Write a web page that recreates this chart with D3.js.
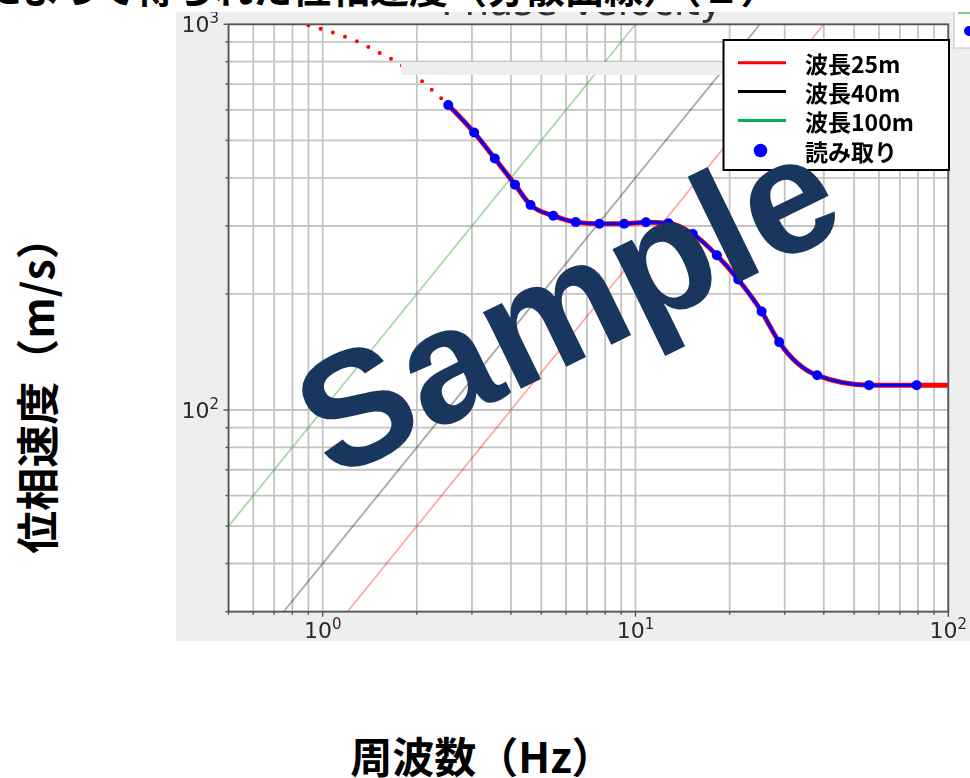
<!DOCTYPE html>
<html>
<head>
<meta charset="utf-8">
<script src="https://cdn.jsdelivr.net/npm/d3@7/dist/d3.min.js"></script>
<style>
  html, body { margin: 0; padding: 0; background: #ffffff; }
  svg { display: block; }
</style>
</head>
<body>
<svg id="chart" width="970" height="778"></svg>
<script>
// Picked phase-velocity points (読み取り)
const readFreq = [2.52, 3.05, 3.55, 4.12, 4.62, 5.46, 6.44, 7.67, 9.2, 10.8, 12.75, 15.25, 18.2, 21.3, 25.3, 28.8, 38.1, 55.8, 79.2];
const readVel  = [618, 524, 449, 384, 340, 319, 307, 304, 304, 306.6, 305, 286, 252, 218, 180, 150, 123, 116, 116];

// Dispersion curve: low-frequency extrapolated part (dotted) and fitted part (solid)
const curveUpperFreq = [0.9, 1.09, 1.30, 1.50, 1.70, 2.0, 2.29, 2.52];
const curveUpperVel  = [995, 949, 900, 848, 804, 731, 664, 618];
const curveLowerFreq = [2.52, 3.05, 3.55, 4.12, 4.62, 5.46, 6.44, 7.67, 9.2, 10.8, 12.75, 15.25, 18.2, 21.3, 25.3, 28.8, 38.1, 55.8, 79.2, 100];
const curveLowerVel  = [618, 524, 449, 384, 340, 319, 307, 304, 304, 306.6, 305, 286, 252, 218, 180, 150, 123, 116, 116, 116];

// Constant-wavelength reference lines (v = λ f), end points
const wl25Freq  = [1.2, 40];   const wl25Vel  = [30, 1000];
const wl40Freq  = [0.75, 25];  const wl40Vel  = [30, 1000];
const wl100Freq = [0.5, 10];   const wl100Vel = [50, 1000];

const legendLabels = ["波長25m", "波長40m", "波長100m", "読み取り"];
const xTickExponents = ["0", "1", "2"];
const yTickExponents = ["2", "3"];
const xMajor = [1, 10, 100];
const yMajor = [100, 1000];

const svg = d3.select("#chart");

// soft blur for the embedded figure
const defs = svg.append("defs");
defs.append("filter").attr("id", "soft").attr("x", "-5%").attr("y", "-5%").attr("width", "110%").attr("height", "110%")
  .append("feGaussianBlur").attr("stdDeviation", 0.6);
defs.append("clipPath").attr("id", "figClip")
  .append("rect").attr("x", 176).attr("y", 12).attr("width", 794).attr("height", 629);
defs.append("clipPath").attr("id", "plotClip")
  .append("rect").attr("x", 228.5).attr("y", 24.3).attr("width", 948.3 - 228.5).attr("height", 611.7 - 24.3);

const x = d3.scaleLog().domain([0.5, 100]).range([228.5, 948.3]);
const y = d3.scaleLog().domain([30, 1000]).range([611.7, 24.3]);

const fig = svg.append("g").attr("clip-path", "url(#figClip)");
const figInner = fig.append("g").attr("filter", "url(#soft)");

// figure background
figInner.append("rect").attr("x", 176).attr("y", 12).attr("width", 794).attr("height", 629).attr("fill", "#eeeeee");

// matplotlib title, mostly cut off by the figure edge
figInner.append("text")
  .attr("x", 582).attr("y", 15)
  .attr("text-anchor", "middle")
  .attr("font-family", "DejaVu Sans")
  .attr("font-size", 39)
  .attr("fill", "#333")
  .text("Phase Velocity");

// plot area
figInner.append("rect").attr("x", 228.5).attr("y", 24.3).attr("width", 948.3 - 228.5).attr("height", 611.7 - 24.3).attr("fill", "#ffffff");

const plot = figInner.append("g").attr("clip-path", "url(#plotClip)");

// grid (major + minor)
plot.append("g").selectAll("line").data(x.ticks()).join("line")
  .attr("x1", d => x(d)).attr("x2", d => x(d))
  .attr("y1", 24.3).attr("y2", 611.7)
  .attr("stroke", "#c4c4c4").attr("stroke-width", 1.8);
plot.append("g").selectAll("line").data(y.ticks()).join("line")
  .attr("y1", d => y(d)).attr("y2", d => y(d))
  .attr("x1", 228.5).attr("x2", 948.3)
  .attr("stroke", "#c4c4c4").attr("stroke-width", 1.8);

// wavelength lines
const straight = d3.line().x(d => x(d[0])).y(d => y(d[1]));
const wlSets = [
  { f: wl25Freq, v: wl25Vel, color: "#ff0000" },
  { f: wl40Freq, v: wl40Vel, color: "#000000" },
  { f: wl100Freq, v: wl100Vel, color: "#009000" }
];
wlSets.forEach(s => {
  plot.append("path")
    .attr("d", straight(d3.zip(s.f, s.v)))
    .attr("fill", "none").attr("stroke", s.color)
    .attr("stroke-opacity", 0.34).attr("stroke-width", 1.8);
});

// dispersion curve
const smooth = d3.line().x(d => x(d[0])).y(d => y(d[1])).curve(d3.curveMonotoneX);
plot.append("path")
  .attr("d", smooth(d3.zip(curveUpperFreq, curveUpperVel)))
  .attr("fill", "none").attr("stroke", "#ff0000")
  .attr("stroke-width", 4).attr("stroke-linecap", "round")
  .attr("stroke-dasharray", "0 12.8");
plot.append("path")
  .attr("d", smooth(d3.zip(curveLowerFreq, curveLowerVel)))
  .attr("fill", "none").attr("stroke", "#ff0000").attr("stroke-width", 5);

// picked points
plot.append("path")
  .attr("d", smooth(d3.zip(readFreq, readVel)))
  .attr("fill", "none").attr("stroke", "#0000ff").attr("stroke-width", 3);
plot.append("g").selectAll("circle").data(d3.zip(readFreq, readVel)).join("circle")
  .attr("cx", d => x(d[0])).attr("cy", d => y(d[1])).attr("r", 5)
  .attr("fill", "#0000ff");

// band across the upper plot
figInner.append("rect").attr("x", 401).attr("y", 62).attr("width", 322).attr("height", 13).attr("fill", "#eeeeee");

// spines
figInner.append("rect").attr("x", 228.5).attr("y", 24.3).attr("width", 948.3 - 228.5).attr("height", 611.7 - 24.3)
  .attr("fill", "none").attr("stroke", "#555").attr("stroke-width", 1.8);

// ticks
const tickG = figInner.append("g").attr("stroke", "#555").attr("stroke-width", 1.4);
x.ticks().forEach(d => {
  const len = xMajor.includes(d) ? 5 : 3;
  tickG.append("line").attr("x1", x(d)).attr("x2", x(d)).attr("y1", 611.7).attr("y2", 611.7 + len);
});
y.ticks().forEach(d => {
  const len = yMajor.includes(d) ? 5 : 3;
  tickG.append("line").attr("y1", y(d)).attr("y2", y(d)).attr("x1", 228.5).attr("x2", 228.5 - len);
});

// tick labels 10^n
xMajor.forEach((d, i) => {
  const t = figInner.append("text")
    .attr("x", x(d)).attr("y", 638)
    .attr("text-anchor", "middle")
    .attr("font-family", "DejaVu Sans").attr("font-size", 22).attr("fill", "#2a2a2a");
  t.append("tspan").text("10");
  t.append("tspan").attr("dy", -9).attr("font-size", 15).text(xTickExponents[i]);
});
yMajor.forEach((d, i) => {
  const t = figInner.append("text")
    .attr("x", 219).attr("y", y(d) + 8)
    .attr("text-anchor", "end")
    .attr("font-family", "DejaVu Sans").attr("font-size", 22).attr("fill", "#2a2a2a");
  t.append("tspan").text("10");
  t.append("tspan").attr("dy", -9).attr("font-size", 15).text(yTickExponents[i]);
});

// legend
const lg = figInner.append("g");
lg.append("rect").attr("x", 723.5).attr("y", 40).attr("width", 225.5).attr("height", 130)
  .attr("fill", "#ffffff").attr("stroke", "#000").attr("stroke-width", 2);
const legendColors = ["#ff0000", "#000000", "#00b050", "#0000ff"];
const rowY = [62.7, 91.5, 120.5, 150.5];
legendLabels.forEach((lab, i) => {
  if (i < 3) {
    lg.append("line").attr("x1", 738).attr("x2", 786).attr("y1", rowY[i]).attr("y2", rowY[i])
      .attr("stroke", legendColors[i]).attr("stroke-width", 3);
  } else {
    lg.append("circle").attr("cx", 760.5).attr("cy", rowY[i]).attr("r", 6.8).attr("fill", legendColors[i]);
  }
  lg.append("text").attr("x", 805).attr("y", rowY[i])
    .attr("dominant-baseline", "central")
    .attr("font-family", "Noto Sans CJK JP").attr("font-weight", 700).attr("font-size", 23)
    .attr("fill", "#000").text(lab);
});

// second legend peeking in at the right edge
const lg2 = figInner.append("g");
lg2.append("rect").attr("x", 954).attr("y", 8).attr("width", 40).attr("height", 40)
  .attr("fill", "#ffffff").attr("stroke", "#cccccc").attr("stroke-width", 1.2);
lg2.append("line").attr("x1", 958).attr("x2", 975).attr("y1", 13).attr("y2", 13)
  .attr("stroke", "#00a000").attr("stroke-opacity", 0.5).attr("stroke-width", 2);
lg2.append("circle").attr("cx", 969).attr("cy", 31).attr("r", 5).attr("fill", "#0000ff");

// slide title (top cut off)
svg.append("text")
  .attr("x", -17).attr("y", 3)
  .attr("font-family", "Noto Sans CJK JP").attr("font-weight", 700).attr("font-size", 39)
  .attr("fill", "#000")
  .text("によって得られた位相速度（分散曲線）（１）");

// axis titles
svg.append("text")
  .attr("transform", "translate(35,385) rotate(-90)")
  .attr("text-anchor", "middle").attr("dominant-baseline", "central")
  .attr("font-family", "Noto Sans CJK JP").attr("font-weight", 700).attr("font-size", 43)
  .attr("fill", "#000")
  .text("位相速度（m/s）");
svg.append("text")
  .attr("x", 482).attr("y", 754)
  .attr("text-anchor", "middle").attr("dominant-baseline", "central")
  .attr("font-family", "Noto Sans CJK JP").attr("font-weight", 700).attr("font-size", 42)
  .attr("fill", "#000")
  .text("周波数（Hz）");

// watermark
svg.append("text")
  .attr("transform", "translate(566,302) rotate(-26)")
  .attr("text-anchor", "middle").attr("dy", "0.36em")
  .attr("font-family", "Liberation Sans").attr("font-weight", 700).attr("font-size", 162)
  .attr("fill", "#19375e")
  .text("Sample");
</script>
</body>
</html>
